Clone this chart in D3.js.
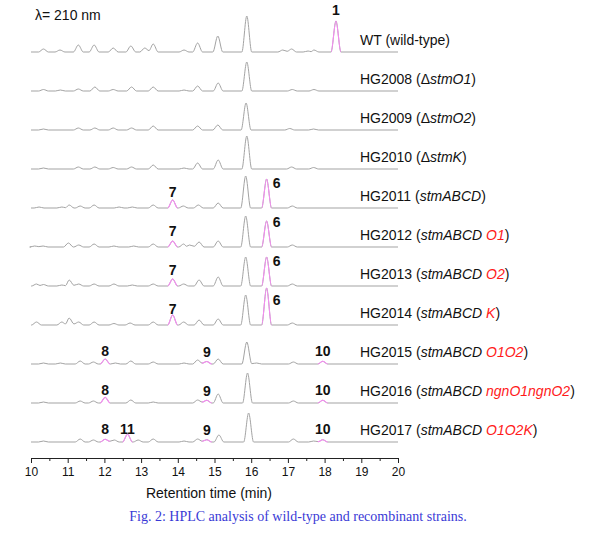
<!DOCTYPE html>
<html><head><meta charset="utf-8">
<script src="https://cdn.jsdelivr.net/npm/d3@7"></script>
<style>body{margin:0;background:#fff}</style></head>
<body>
<svg id="c" width="602" height="534"></svg>
<script>
// ---- DATA ----
const strainLabels = [
  [["WT (wild-type)","n"]],
  [["HG2008 (Δ","n"],["stmO1","i"],[")","n"]],
  [["HG2009 (Δ","n"],["stmO2","i"],[")","n"]],
  [["HG2010 (Δ","n"],["stmK","i"],[")","n"]],
  [["HG2011 (","n"],["stmABCD","i"],[")","n"]],
  [["HG2012 (","n"],["stmABCD","i"],[" ","n"],["O1","r"],[")","n"]],
  [["HG2013 (","n"],["stmABCD","i"],[" ","n"],["O2","r"],[")","n"]],
  [["HG2014 (","n"],["stmABCD","i"],[" ","n"],["K","r"],[")","n"]],
  [["HG2015 (","n"],["stmABCD","i"],[" ","n"],["O1O2","r"],[")","n"]],
  [["HG2016 (","n"],["stmABCD","i"],[" ","n"],["ngnO1ngnO2","r"],[")","n"]],
  [["HG2017 (","n"],["stmABCD","i"],[" ","n"],["O1O2K","r"],[")","n"]]
];

// peaks: [retention time (min), height (arb. units)]
const peaksWT     = [[10.34,3],[10.79,2],[11.29,7],[11.72,7],[12.24,4],[12.72,6],[13.1,4],[13.33,8],[14.17,2],[14.54,9],[15.09,16],[15.88,36],[16.86,2],[17.1,3],[17.55,1],[17.71,2],[18.31,31]];
const peaks2008   = [[10.34,1.5],[10.8,1],[11.29,2],[11.74,4],[12.24,1.5],[12.74,4],[13.33,4],[14.17,1],[14.54,5],[15.1,8],[15.88,29],[17.12,1.5],[17.71,1.5]];
const peaks2009   = [[10.34,1],[11.29,2],[11.74,2],[12.24,2],[12.74,2],[13.33,4],[14.54,4],[15.09,5],[15.86,27],[17.05,1.5],[17.7,1]];
const peaks2010   = [[10.34,1],[11.29,2],[11.74,2],[12.24,1.5],[12.74,2],[13.33,4],[14.17,1],[14.54,6],[15.1,9],[15.88,33],[17.1,2],[17.7,1.5]];
const peaks2011   = [[10.22,1],[10.84,1],[11.04,3],[11.34,2],[11.72,3],[12.4,1],[12.76,1],[13.33,3],[13.86,8],[14.15,2],[14.56,3],[15.1,5],[15.85,32],[16.42,29],[17.12,2]];
const peaks2012   = [[10.1,1],[10.33,1],[11.02,4],[11.3,2],[11.72,3],[12.26,1],[12.8,1],[13.33,3],[13.86,6],[14.16,3],[14.32,2],[14.58,5],[15.1,6],[15.85,31],[16.42,26],[17.12,2]];
const peaks2013   = [[10.15,2],[10.34,1.5],[10.84,1],[11.04,6],[11.3,2],[11.72,2],[12.26,2],[12.76,1],[13.33,2],[13.86,7],[14.16,2],[14.58,6],[15.1,9],[15.85,29],[16.42,29],[17.12,2]];
const peaks2014   = [[10.15,3],[10.84,3],[11.04,7],[11.3,3],[11.72,3],[12.26,1.5],[12.7,2],[13.33,3],[13.86,10],[14.16,3],[14.58,5],[15.1,6],[15.85,30],[16.42,37],[17.12,2]];
const peaks2015   = [[10.34,1],[10.8,1],[11.34,3],[11.7,2],[12.02,5],[12.3,1],[12.72,3],[13.33,2],[14.17,1],[14.54,4],[14.79,2.5],[15.1,5],[15.88,22],[16.15,1],[17.15,2],[17.95,2.7]];
const peaks2016   = [[10.34,1],[11.34,2],[11.7,2],[12.02,5.7],[12.72,3],[13.33,1],[14.54,3],[14.79,2.7],[15.1,9],[15.9,30],[17.15,2],[17.95,2.7]];
const peaks2017   = [[10.34,1],[11.34,3],[11.7,2],[12.02,2.7],[12.27,2],[12.63,7.7],[12.92,2],[13.33,3],[14.17,1],[14.54,3],[14.79,2.3],[15.12,7],[15.93,29],[17.15,3],[17.7,1],[17.95,2.3]];
const allPeaks = [peaksWT,peaks2008,peaks2009,peaks2010,peaks2011,peaks2012,peaks2013,peaks2014,peaks2015,peaks2016,peaks2017];

// highlighted (pink) peaks: [trace index, compound number, retention time]
const compounds = [
  [0,"1",18.31],
  [4,"7",13.86],[4,"6",16.42],
  [5,"7",13.86],[5,"6",16.42],
  [6,"7",13.86],[6,"6",16.42],
  [7,"7",13.86],[7,"6",16.42],
  [8,"8",12.02],[8,"9",14.79],[8,"10",17.95],
  [9,"8",12.02],[9,"9",14.79],[9,"10",17.95],
  [10,"8",12.02],[10,"11",12.63],[10,"9",14.79],[10,"10",17.95]
];
const tickLabels = [10,11,12,13,14,15,16,17,18,19,20];
const minorTicks = [10.5,11.5,12.5,13.5,14.5,15.5,16.5,17.5,18.5,19.5];

// ---- STYLE ----
const HALF = 0.135;                 // peak half-width (min)
const labelLift = {"1":42,"6":25,"7":16,"8":13,"9":12,"10":13,"11":13};
const labelShift = {"6":10};
const gray = "#a3a3a3", pink = "#f58cf2";
const sans = "'Liberation Sans', Arial, Helvetica, sans-serif";

const svg = d3.select("#c");
const x = d3.scaleLinear().domain([10,20]).range([31,398]);
const base = d3.scalePoint().domain(d3.range(allPeaks.length)).range([52,442]);
const amp = d3.scaleLinear().domain([0,40]).range([0,40]);

function vertices(peaks){
  const pts = [[10,0]];
  peaks.forEach((p,i)=>{
    const [t,h] = p, prev = peaks[i-1], next = peaks[i+1];
    if(!prev || prev[0]+HALF <= t-HALF) pts.push([t-HALF,0]);
    pts.push([t,h]);
    if(next && next[0]-HALF < t+HALF) pts.push([(t+next[0])/2, Math.min(h,next[1])*0.35]);
    else pts.push([t+HALF,0]);
  });
  pts.push([20,0]);
  return pts;
}

const defs = svg.append("defs");
const g = svg.append("g");
allPeaks.forEach((peaks,i)=>{
  const b = base(i);
  const line = d3.line().x(d=>x(d[0])).y(d=>b-amp(d[1])).curve(d3.curveMonotoneX);
  const v = vertices(peaks);
  g.append("path").attr("d",line(v)).attr("fill","none").attr("stroke",gray).attr("stroke-width",1);
  compounds.filter(c=>c[0]===i).forEach((c,k)=>{
    const id = `clip${i}_${k}`;
    defs.append("clipPath").attr("id",id).append("rect")
      .attr("x",x(c[2]-HALF)).attr("width",x(c[2]+HALF)-x(c[2]-HALF))
      .attr("y",b-60).attr("height",62);
    g.append("path").attr("d",line(v)).attr("fill","none").attr("stroke",pink)
      .attr("stroke-width",1.1).attr("clip-path",`url(#${id})`);
    g.append("text").attr("x",x(c[2])+(labelShift[c[1]]||0)).attr("y",b-labelLift[c[1]])
      .attr("dy","0.35em").attr("text-anchor","middle")
      .attr("font-family",sans).attr("font-weight","bold").attr("font-size",14)
      .attr("fill","#111").text(c[1]);
  });
  // strain label
  const t = g.append("text").attr("x",360).attr("y",b-7)
    .attr("font-family",sans).attr("font-size",14).attr("fill","#111");
  strainLabels[i].forEach(([s,st])=>{
    const ts = t.append("tspan").text(s);
    if(st!=="n") ts.attr("font-style","italic");
    if(st==="r") ts.attr("fill","#ff1a1a");
  });
});

// axis
const axY = 458;
const ax = svg.append("g").attr("transform",`translate(0,${axY})`)
  .call(d3.axisBottom(x).tickValues(tickLabels).tickSize(5).tickPadding(4).tickSizeOuter(0).tickFormat(d3.format("d")));
ax.selectAll("text").attr("font-family",sans).attr("font-size",12).attr("fill","#111");
ax.selectAll("line,path").attr("stroke","#222");
const mn = svg.append("g").attr("transform",`translate(0,${axY})`)
  .call(d3.axisBottom(x).tickValues(minorTicks).tickSize(3).tickFormat(""));
mn.select(".domain").remove();
mn.selectAll("line").attr("stroke","#222");

svg.append("text").attr("x",209).attr("y",498).attr("text-anchor","middle")
  .attr("font-family",sans).attr("font-size",14).attr("fill","#111").text("Retention time (min)");
svg.append("text").attr("x",35).attr("y",20)
  .attr("font-family",sans).attr("font-size",14).attr("fill","#111").text("λ= 210 nm");
svg.append("text").attr("x",298).attr("y",521).attr("text-anchor","middle")
  .attr("font-family","'Liberation Serif','Times New Roman',serif").attr("font-size",14)
  .attr("fill","#3a3ad6").text("Fig. 2: HPLC analysis of wild-type and recombinant strains.");
</script>
</body></html>
